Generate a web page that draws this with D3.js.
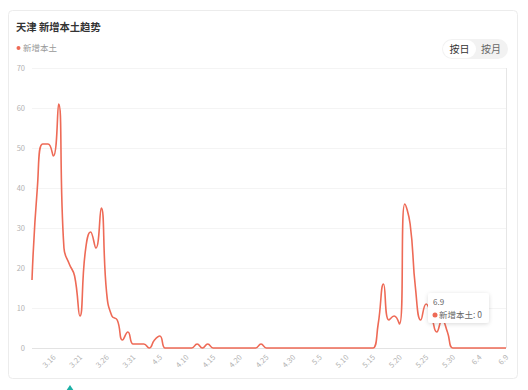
<!DOCTYPE html>
<html>
<head>
<meta charset="utf-8">
<script src="https://cdn.jsdelivr.net/npm/d3@7/dist/d3.min.js"></script>
<style>
body { margin: 0; background: #fff; font-family: "Noto Sans CJK SC", "Noto Sans", sans-serif; }
</style>
</head>
<body>
<div id="chart"></div>
<script>
// Daily categories 3.12 - 6.9
const dates = [
    "3.12","3.13","3.14","3.15","3.16","3.17","3.18","3.19","3.20","3.21",
    "3.22","3.23","3.24","3.25","3.26","3.27","3.28","3.29","3.30","3.31",
    "4.1","4.2","4.3","4.4","4.5","4.6","4.7","4.8","4.9","4.10",
    "4.11","4.12","4.13","4.14","4.15","4.16","4.17","4.18","4.19","4.20",
    "4.21","4.22","4.23","4.24","4.25","4.26","4.27","4.28","4.29","4.30",
    "5.1","5.2","5.3","5.4","5.5","5.6","5.7","5.8","5.9","5.10",
    "5.11","5.12","5.13","5.14","5.15","5.16","5.17","5.18","5.19","5.20",
    "5.21","5.22","5.23","5.24","5.25","5.26","5.27","5.28","5.29","5.30",
    "5.31","6.1","6.2","6.3","6.4","6.5","6.6","6.7","6.8","6.9"
];
const values = [
    17, 40, 51, 51, 48, 61, 25, 21, 18, 8,
    24, 29, 25, 35, 14, 8, 7, 2, 4, 1,
    1, 1, 0, 2, 3, 0, 0, 0, 0, 0,
    0, 1, 0, 1, 0, 0, 0, 0, 0, 0,
    0, 0, 0, 1, 0, 0, 0, 0, 0, 0,
    0, 0, 0, 0, 0, 0, 0, 0, 0, 0,
    0, 0, 0, 0, 0, 6, 16, 7, 8, 6,
    36, 31, 15, 7, 11, 8, 4, 7, 4, 0,
    0, 0, 0, 0, 0, 0, 0, 0, 0, 0
];
const tickLabels = ["3.16","3.21","3.26","3.31","4.5","4.10","4.15","4.20","4.25",
    "4.30","5.5","5.10","5.15","5.20","5.25","5.30","6.4","6.9"];
const yTicks = [0, 10, 20, 30, 40, 50, 60, 70];
const seriesName = "新增本土";
const hoverIndex = dates.length - 1;

const lineColor = "#ee6a56";
const W = 528, H = 390;

const svg = d3.select('#chart').append('svg')
    .attr('width', W)
    .attr('height', H);

const defs = svg.append('defs');
const shadow = defs.append('filter').attr('id', 'tipShadow')
    .attr('x', '-20%').attr('y', '-30%').attr('width', '140%').attr('height', '160%');
shadow.append('feDropShadow')
    .attr('dx', 0).attr('dy', 1).attr('stdDeviation', 2)
    .attr('flood-color', '#000').attr('flood-opacity', 0.15);

// card
svg.append('rect')
    .attr('x', 8.5).attr('y', 10.5)
    .attr('width', 509).attr('height', 368)
    .attr('rx', 4)
    .attr('fill', '#fff')
    .attr('stroke', '#ececec');

// title
svg.append('text')
    .attr('x', 16).attr('y', 31)
    .attr('font-size', 10.3)
    .attr('font-weight', 600)
    .attr('fill', '#333')
    .text('天津 新增本土趋势');

// legend
svg.append('circle').attr('cx', 18.5).attr('cy', 48).attr('r', 2).attr('fill', lineColor);
svg.append('text')
    .attr('x', 23).attr('y', 51)
    .attr('font-size', 8.5)
    .attr('fill', '#999')
    .text(seriesName);

// day / month toggle
svg.append('rect').attr('x', 442).attr('y', 39).attr('width', 66).attr('height', 20)
    .attr('rx', 10).attr('fill', '#f2f2f2');
svg.append('rect').attr('x', 443).attr('y', 40).attr('width', 33).attr('height', 18)
    .attr('rx', 9).attr('fill', '#fff');
svg.append('text').attr('x', 459.5).attr('y', 53).attr('text-anchor', 'middle')
    .attr('font-size', 10).attr('fill', '#333').text('按日');
svg.append('text').attr('x', 491).attr('y', 53).attr('text-anchor', 'middle')
    .attr('font-size', 10).attr('fill', '#666').text('按月');

const x = d3.scalePoint()
    .domain(dates)
    .range([32, 506]);
const y = d3.scaleLinear()
    .domain([0, 70])
    .range([348, 68]);

// grid
svg.append('g')
    .selectAll('line')
    .data(yTicks)
    .enter().append('line')
        .attr('x1', 32).attr('x2', 506)
        .attr('y1', d => y(d) + 0.5).attr('y2', d => y(d) + 0.5)
        .attr('stroke', d => d === 0 ? '#e3e3e3' : '#f4f4f4');

svg.append('g')
    .selectAll('text')
    .data(yTicks)
    .enter().append('text')
        .attr('x', 25)
        .attr('y', d => y(d))
        .attr('dy', '0.35em')
        .attr('text-anchor', 'end')
        .attr('font-size', 7.5)
        .attr('fill', '#b3b3b3')
        .text(d => d);

svg.append('g')
    .selectAll('text')
    .data(tickLabels)
    .enter().append('text')
        .attr('transform', d => `translate(${x(d) + 1}, 356) rotate(-45)`)
        .attr('dy', '0.35em')
        .attr('text-anchor', 'end')
        .attr('font-size', 7.5)
        .attr('fill', '#b3b3b3')
        .text(d => d);

// axis pointer at hovered day
svg.append('line')
    .attr('x1', x(dates[hoverIndex]) + 0.5).attr('x2', x(dates[hoverIndex]) + 0.5)
    .attr('y1', 68).attr('y2', 348)
    .attr('stroke', '#e6e6e6');

// echarts-like smooth polyline (control points clamped to neighbours)
function smoothLine(pts, smooth) {
    const p = d3.path();
    let prevX, prevY, cpx0, cpy0;
    pts.forEach(([px, py], k) => {
        if (k === 0) {
            p.moveTo(px, py);
            cpx0 = px; cpy0 = py; prevX = px; prevY = py;
            return;
        }
        let cpx1 = px, cpy1 = py, nx0 = px, ny0 = py;
        const next = pts[k + 1];
        if (next) {
            const [nextX, nextY] = next;
            let vx = nextX - prevX, vy = nextY - prevY;
            const l0 = Math.hypot(px - prevX, py - prevY);
            const l1 = Math.hypot(nextX - px, nextY - py);
            const r = l1 / (l1 + l0);
            nx0 = px + vx * smooth * r;
            ny0 = py + vy * smooth * r;
            nx0 = Math.max(Math.min(nx0, Math.max(nextX, px)), Math.min(nextX, px));
            ny0 = Math.max(Math.min(ny0, Math.max(nextY, py)), Math.min(nextY, py));
            vx = nx0 - px; vy = ny0 - py;
            cpx1 = px - vx * l0 / l1;
            cpy1 = py - vy * l0 / l1;
            cpx1 = Math.max(Math.min(cpx1, Math.max(prevX, px)), Math.min(prevX, px));
            cpy1 = Math.max(Math.min(cpy1, Math.max(prevY, py)), Math.min(prevY, py));
            vx = px - cpx1; vy = py - cpy1;
            nx0 = px + vx * l1 / l0;
            ny0 = py + vy * l1 / l0;
        }
        p.bezierCurveTo(cpx0, cpy0, cpx1, cpy1, px, py);
        cpx0 = nx0; cpy0 = ny0; prevX = px; prevY = py;
    });
    return p.toString();
}

const points = values.map((v, i) => [x(dates[i]), y(v)]);
svg.append('path')
    .attr('fill', 'none')
    .attr('stroke', lineColor)
    .attr('stroke-width', 1.6)
    .attr('stroke-linejoin', 'round')
    .attr('d', smoothLine(points, 0.5));

// tooltip
const tip = svg.append('g').attr('transform', 'translate(428, 293)');
tip.append('rect')
    .attr('width', 61).attr('height', 30).attr('rx', 3)
    .attr('fill', '#fff')
    .attr('filter', 'url(#tipShadow)');
tip.append('text')
    .attr('x', 5).attr('y', 12)
    .attr('font-size', 8)
    .attr('fill', '#666')
    .text(dates[hoverIndex]);
tip.append('circle').attr('cx', 7).attr('cy', 22).attr('r', 2.5).attr('fill', lineColor);
tip.append('text')
    .attr('x', 11).attr('y', 25)
    .attr('font-size', 8.5)
    .attr('fill', '#666')
    .text(`${seriesName}: ${values[hoverIndex]}`);

// cut-off icon below the card
svg.append('path')
    .attr('d', 'M66 391 L70 385 L74 391 Z')
    .attr('fill', '#1cb0a6');
</script>
</body>
</html>
